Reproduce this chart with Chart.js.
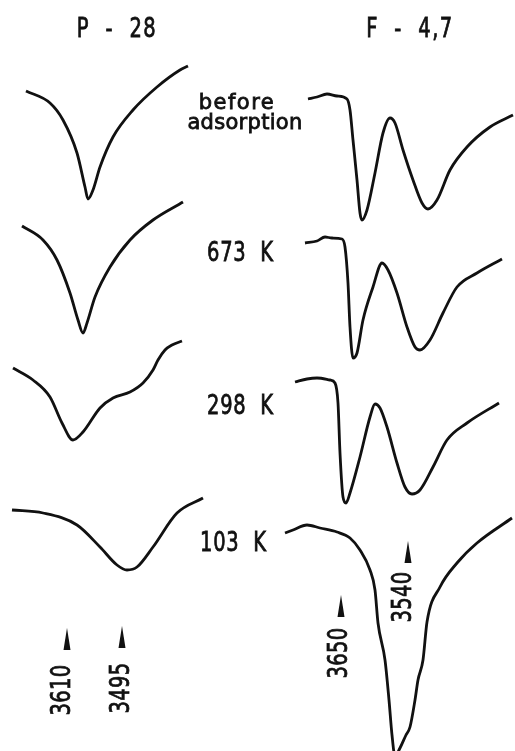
<!DOCTYPE html>
<html>
<head>
<meta charset="utf-8">
<script src="https://cdn.jsdelivr.net/npm/chart.js@4"></script>
<style>
  html, body { margin: 0; padding: 0; background: #fff; }
  #wrap { width: 515px; height: 751px; }
</style>
</head>
<body>
<div id="wrap"><canvas id="ir" width="515" height="751"></canvas></div>
<script>
// spectra, in figure units (x across, y down)
var p28Before = [[26,91],[50,103],[63,120],[77,153],[85,187],[88,199],[93,190],[100,167],[113,137],[133,110],[157,87],[180,70],[188,66]];
var p28At673 = [[22,226],[43,240],[57,260],[70,293],[78,320],[83,333],[87,323],[95,297],[110,267],[130,240],[153,220],[183,202]];
var p28At298 = [[13,368],[33,380],[50,397],[62,423],[73,440],[83,432],[100,408],[113,398],[130,392],[143,383],[153,370],[158,360],[165,350],[172,345],[182,341]];
var p28At103 = [[12,510],[43,513],[77,525],[100,547],[117,565],[127,570],[137,567],[153,547],[177,513],[203,498]];

var f47Before = [[308,99],[317,97],[327,94],[337,96],[347,99],[350,110],[353,140],[357,180],[360,213],[362,220],[367,210],[375,173],[383,133],[390,118],[395,123],[403,150],[413,180],[422,203],[428,209],[437,200],[450,170],[467,147],[490,127],[513,115]];
var f47At673 = [[305,243],[317,241],[325,237],[332,238],[342,239],[345,247],[348,283],[350,327],[353,358],[357,353],[363,320],[373,287],[382,263],[388,270],[397,293],[407,327],[415,347],[420,350],[430,340],[443,313],[457,287],[477,273],[502,259]];
var f47At298 = [[295,382],[307,379],[317,378],[330,380],[335,383],[338,403],[340,453],[343,497],[346,503],[350,493],[360,457],[370,417],[375,404],[380,408],[387,427],[397,463],[405,487],[412,494],[420,490],[433,467],[447,440],[467,423],[499,403]];
var f47At103 = [[285,533],[293,530],[307,525],[320,528],[337,532],[350,538],[360,550],[370,570],[375,590],[378,623],[385,660],[389,700],[392,735],[395,756],[400,748],[406,735],[410,727],[415,700],[418,680],[423,660],[427,622],[440,587],[457,563],[477,543],[512,518]];

// band markers (wavenumbers, cm-1)
var markerLabels = ['3610', '3495', '3650', '3540'];
var markerX = [67, 122, 341, 408];
var markerY = [639, 637, 606, 552];

var sampleNames = ['P - 28', 'F - 4,7'];
var stageLabels = ['673 K', '298 K', '103 K'];

function toPoints(arr) {
    return arr.map(function(p) { return {x: p[0], y: p[1]}; });
}

// tall narrow wedge used as the marker point style
var wedge = document.createElement('canvas');
wedge.width = 8;
wedge.height = 22;
var wc = wedge.getContext('2d');
wc.fillStyle = '#111';
wc.beginPath();
wc.moveTo(4, 0);
wc.lineTo(7.5, 22);
wc.lineTo(0.5, 22);
wc.closePath();
wc.fill();

var FONT = '"DejaVu Sans", sans-serif';

function drawText(ctx, text, x, y, size, squeeze, spacing, align, angle) {
    ctx.save();
    ctx.translate(x, y);
    if (angle) ctx.rotate(angle);
    ctx.scale(squeeze, 1);
    ctx.font = size + 'px ' + FONT;
    ctx.letterSpacing = spacing + 'px';
    ctx.fillStyle = '#111';
    ctx.strokeStyle = '#111';
    ctx.lineWidth = 0.8;
    ctx.textAlign = align;
    ctx.textBaseline = 'middle';
    ctx.fillText(text, 0, 0);
    ctx.strokeText(text, 0, 0);
    ctx.restore();
}

var labelPlugin = {
    id: 'labels',
    afterDraw: function(chart) {
        var ctx = chart.ctx;
        var sx = chart.scales.x, sy = chart.scales.y;
        function px(v) { return sx.getPixelForValue(v); }
        function py(v) { return sy.getPixelForValue(v); }

        drawText(ctx, sampleNames[0].replace(/ /g, '  '), px(117), py(30), 26, 0.75, 2, 'center');
        drawText(ctx, sampleNames[1].replace(/ /g, '  '), px(410), py(30), 26, 0.75, 2, 'center');

        drawText(ctx, 'before', px(237), py(104), 21, 1, 1.5, 'center');
        drawText(ctx, 'adsorption', px(245), py(124), 21, 1, 0.3, 'center');

        drawText(ctx, stageLabels[0].replace(' ', '  '), px(207), py(254), 26, 0.75, 1, 'left');
        drawText(ctx, stageLabels[1].replace(' ', '  '), px(207), py(407), 26, 0.75, 1, 'left');
        drawText(ctx, stageLabels[2].replace(' ', '  '), px(200), py(544), 26, 0.75, 1, 'left');

        var labelY = [690, 688, 653, 597];
        var labelX = [63, 122, 340, 404];
        for (var i = 0; i < markerLabels.length; i++) {
            drawText(ctx, markerLabels[i], px(labelX[i]), py(labelY[i]), 26, 0.75, 0.5, 'center', -Math.PI / 2);
        }
    }
};

var curves = [p28Before, p28At673, p28At298, p28At103, f47Before, f47At673, f47At298, f47At103];
var datasets = curves.map(function(c) {
    return {
        data: toPoints(c),
        borderColor: '#111',
        borderWidth: 2.8,
        pointRadius: 0,
        cubicInterpolationMode: 'monotone',
        fill: false
    };
});
datasets.push({
    type: 'scatter',
    data: markerX.map(function(x, i) { return {x: x, y: markerY[i]}; }),
    pointStyle: wedge,
    pointRadius: 6,
    showLine: false
});

new Chart(document.getElementById('ir'), {
    type: 'line',
    data: { datasets: datasets },
    options: {
        responsive: false,
        animation: false,
        layout: { padding: 0, autoPadding: false },
        scales: {
            x: { type: 'linear', display: false, min: 0, max: 515 },
            y: { type: 'linear', display: false, min: 0, max: 751, reverse: true }
        },
        plugins: {
            legend: { display: false },
            tooltip: { enabled: false }
        }
    },
    plugins: [labelPlugin]
});
</script>
</body>
</html>
